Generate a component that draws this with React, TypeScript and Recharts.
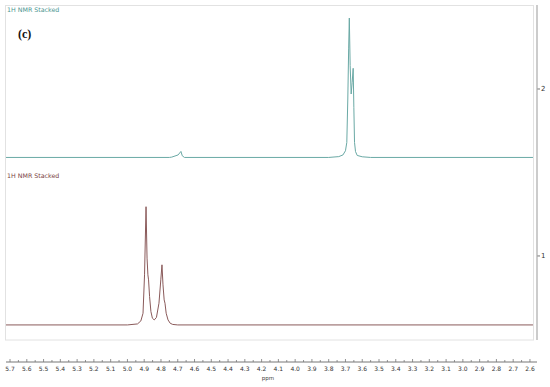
import React from 'react';
import { LineChart, Line, XAxis, YAxis } from 'recharts';

// chemical shift axis labels (ppm), right to left
const PPM_LABELS = [
  '5.7', '5.6', '5.5', '5.4', '5.3', '5.2', '5.1', '5.0', '4.9', '4.8', '4.7', '4.6', '4.5', '4.4', '4.3', '4.2',
  '4.1', '4.0', '3.9', '3.8', '3.7', '3.6', '3.5', '3.4', '3.3', '3.2', '3.1', '3.0', '2.9', '2.8', '2.7', '2.6',
];
const STACK_TICKS = [1, 2];

// upper trace (teal)
const TOP_OFFSET = 1.59;
const topPpm = [5.724, 4.75, 4.736, 4.698, 4.681, 4.673, 4.66, 3.8, 3.74, 3.715, 3.7, 3.692, 3.686, 3.681, 3.677, 3.672, 3.666, 3.66, 3.654, 3.65, 3.646, 3.64, 3.63, 3.6, 3.55, 2.582];
const topValue = [0, 0, 0.002, 0.015, 0.036, 0.01, 0, 0, 0.005, 0.015, 0.04, 0.09, 0.35, 0.65, 0.835, 0.55, 0.38, 0.45, 0.534, 0.3, 0.09, 0.035, 0.012, 0.004, 0, 0];

// lower trace (brown)
const BOTTOM_OFFSET = 0.587;
const bottomPpm = [5.724, 5.0, 4.94, 4.92, 4.907, 4.898, 4.889, 4.883, 4.878, 4.874, 4.868, 4.86, 4.851, 4.84, 4.827, 4.812, 4.801, 4.794, 4.788, 4.781, 4.776, 4.769, 4.758, 4.745, 4.73, 4.7, 2.582];
const bottomValue = [0, 0, 0.006, 0.024, 0.07, 0.3, 0.708, 0.4, 0.3, 0.27, 0.17, 0.08, 0.04, 0.03, 0.045, 0.13, 0.27, 0.36, 0.24, 0.15, 0.13, 0.07, 0.03, 0.01, 0.003, 0, 0];

const topData = topPpm.map((p, i) => ({ ppm: p, y: topValue[i] + TOP_OFFSET }));
const bottomData = bottomPpm.map((p, i) => ({ ppm: p, y: bottomValue[i] + BOTTOM_OFFSET }));

const majorTicks = PPM_LABELS.map(Number);
const allTicks = [
  ...majorTicks,
  ...majorTicks.slice(0, -1).map((v) => +(v - 0.05).toFixed(2)),
];

const FONT = '"DejaVu Sans", Verdana, sans-serif';

const PpmTick = (props: any) => {
  const { x, y, payload } = props;
  const v = payload.value as number;
  const major = Math.abs(v * 10 - Math.round(v * 10)) < 1e-6;
  return (
    <g>
      <line x1={x} x2={x} y1={y} y2={y - (major ? 3 : 2)} stroke="#777" strokeWidth={0.8} />
      {major && (
        <text x={x} y={y + 9} textAnchor="middle" fontSize={6} fill="#333" fontFamily={FONT}>
          {v.toFixed(1)}
        </text>
      )}
    </g>
  );
};

export default function App() {
  return (
    <div style={{ position: 'absolute', left: 0, top: 0, width: 550, height: 387, background: '#fff' }}>
      <LineChart width={550} height={387} margin={{ top: 5, right: 0, bottom: 0, left: 6 }}>
        <XAxis
          dataKey="ppm"
          type="number"
          domain={[2.558, 5.724]}
          reversed
          ticks={allTicks}
          interval={0}
          tick={<PpmTick />}
          tickLine={false}
          tickSize={0}
          tickMargin={0}
          height={25}
          stroke="#777"
          allowDuplicatedCategory={false}
        />
        <YAxis
          orientation="right"
          type="number"
          domain={[0.365, 2.503]}
          ticks={STACK_TICKS}
          width={13}
          axisLine={false}
          tickSize={3}
          tickMargin={1}
          tickLine={{ stroke: '#777' }}
          tick={{ fontSize: 7, fill: '#333', fontFamily: FONT }}
        />
        <Line data={topData} dataKey="y" type="linear" stroke="#6aa9a5" strokeWidth={1} dot={false} isAnimationActive={false} />
        <Line data={bottomData} dataKey="y" type="linear" stroke="#8a5a5a" strokeWidth={1} dot={false} isAnimationActive={false} />
      </LineChart>
      <svg width={550} height={387} style={{ position: 'absolute', left: 0, top: 0, pointerEvents: 'none' }}>
        <rect x={5.5} y={5.5} width={528} height={334.5} fill="none" stroke="#e2e2e2" />
        <line x1={537} x2={537} y1={5} y2={340} stroke="#aaa" strokeWidth={1.2} />
        <text x={7} y={12} fontSize={6.3} fill="#4a9590" fontFamily={FONT}>1H NMR Stacked</text>
        <text x={7} y={178} fontSize={6.3} fill="#7a3f3f" fontFamily={FONT}>1H NMR Stacked</text>
        <text x={18} y={38} fontSize={12} fontWeight="bold" fill="#111" fontFamily='"Liberation Serif", "Times New Roman", serif'>(c)</text>
        <text x={268} y={380} fontSize={5.5} textAnchor="middle" fill="#444" fontFamily={FONT}>ppm</text>
      </svg>
    </div>
  );
}
